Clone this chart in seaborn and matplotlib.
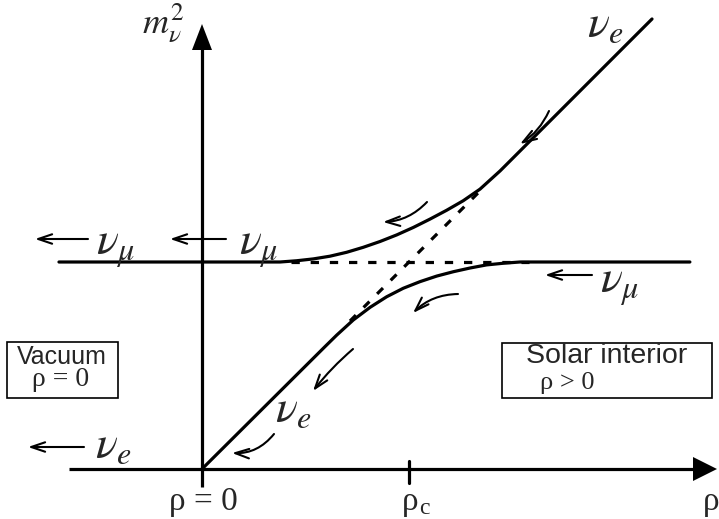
import numpy as np
import pandas as pd
import matplotlib
matplotlib.use("Agg")
import matplotlib.pyplot as plt
import seaborn as sns
from matplotlib.patches import Rectangle, Polygon

# ---------------- data (ρ in units of ρc, m² in units of m²_μ) ----------------
upper_rho = [-0.691, 0.377, 0.457, 0.538, 0.618, 0.699, 0.779, 0.860, 0.941,
             1.021, 1.101, 1.182, 1.262, 1.343, 1.440, 2.174]
upper_m2 = [1.000, 1.000, 1.006, 1.015, 1.028, 1.047, 1.071, 1.099, 1.131,
            1.167, 1.207, 1.250, 1.296, 1.352, 1.440, 2.174]
lower_rho = [0.0, 0.594, 0.651, 0.731, 0.812, 0.892, 0.972, 1.053, 1.134,
             1.214, 1.295, 1.375, 1.456, 1.536, 1.647, 2.357]
lower_m2 = [0.0, 0.591, 0.647, 0.720, 0.781, 0.832, 0.873, 0.905, 0.932,
            0.953, 0.971, 0.986, 0.994, 1.000, 1.000, 1.000]
cross_h_rho = [0.43, 1.58]      # dashed νμ level (no mixing)
cross_h_m2 = [1.0, 1.0]
cross_d_rho = [0.715, 1.367]    # dashed νe line (no mixing)
cross_d_m2 = [0.715, 1.367]
rho_c = 1.0

# ---------------- figure ----------------
sns.set_style("white")
plt.rcParams["mathtext.fontset"] = "stix"
fig = plt.figure(figsize=(7.19, 5.19), dpi=100)
ax = fig.add_axes([0, 0, 1, 1])
U = 207.0
X0, Y0 = 202.0, 469.0
ax.set_xlim((0 - X0) / U, (719 - X0) / U)
ax.set_ylim((Y0 - 519) / U, (Y0 - 0) / U)
ax.axis("off")


def P(px, py):
    return ((px - X0) / U, (Y0 - py) / U)


LW = 2.3
up = pd.DataFrame({"rho": upper_rho, "m2": upper_m2})
lo = pd.DataFrame({"rho": lower_rho, "m2": lower_m2})
sns.lineplot(data=up, x="rho", y="m2", sort=False, estimator=None,
             color="black", lw=LW, ax=ax)
sns.lineplot(data=lo, x="rho", y="m2", sort=False, estimator=None,
             color="black", lw=LW, ax=ax)
ax.plot(cross_h_rho, cross_h_m2, color="black", lw=LW, dashes=(2.6, 3.4))
ax.plot(cross_d_rho, cross_d_m2, color="black", lw=LW, dashes=(2.6, 3.4))

# axes with arrow heads
xa0 = P(69, 469); xa1 = P(697, 469)
ax.plot([xa0[0], xa1[0]], [0, 0], color="black", lw=LW, solid_capstyle="butt")
ax.add_patch(Polygon([P(717, 469), P(693, 457), P(693, 481)], closed=True,
                     color="black", lw=0))
ya0 = P(202, 487); ya1 = P(202, 48)
ax.plot([0, 0], [ya0[1], ya1[1]], color="black", lw=LW, solid_capstyle="butt")
ax.add_patch(Polygon([P(202, 24), P(192, 50), P(212, 50)], closed=True,
                     color="black", lw=0))
t0 = P(411, 461); t1 = P(411, 483)
ax.plot([rho_c, rho_c], [t0[1], t1[1]], color="black", lw=LW)

# arrows
def arrow(s, e, rad=0.0):
    ax.annotate("", xy=P(*e), xytext=P(*s),
                arrowprops=dict(arrowstyle="->,head_length=1.0,head_width=0.34",
                                lw=1.5, color="black", shrinkA=0, shrinkB=0,
                                connectionstyle=f"arc3,rad={rad}"))

arrow((549, 111), (520, 144), -0.15)
arrow((427, 202), (383, 222), -0.2)
arrow((458, 294), (413, 313), 0.2)
arrow((353, 349), (313, 391), 0.05)
arrow((274, 434), (232, 453), -0.25)
arrow((88, 239), (35, 239))
arrow((226, 239), (170, 239))
arrow((84, 447), (28, 447))
arrow((592, 275), (545, 275))

# labels
FS = 33
def lab(px, py, s, fs=FS, ha="left", va="baseline", **kw):
    ax.text(*P(px, py), s, fontsize=fs, ha=ha, va=va, **kw)

lab(142, 33, r"$m_{\nu}^{2}$", fs=26)
lab(587, 37, r"$\nu_e$")
lab(96, 255, r"$\nu_\mu$")
lab(239, 255, r"$\nu_\mu$")
lab(600, 293, r"$\nu_\mu$")
lab(275, 422, r"$\nu_e$")
lab(95, 458, r"$\nu_e$")

SER = "Liberation Serif"
lab(203, 502, "ρ = 0", fs=24, ha="center", va="center", family=SER)
lab(410, 502, "ρ", fs=24, ha="center", va="center", family=SER)
lab(419, 509, "c", fs=17, ha="left", va="center", family=SER)
lab(711, 502, "ρ", fs=24, ha="center", va="center", family=SER)

SANS = "Liberation Sans"
b0 = P(7, 398); b1 = P(118, 342)
ax.add_patch(Rectangle(b0, b1[0] - b0[0], b1[1] - b0[1], fill=False,
                       lw=1.2, ec="black"))
lab(62, 357, "Vacuum", fs=18, ha="center", va="center", family=SANS)
lab(61, 380, "ρ = 0", fs=20, ha="center", va="center", family=SER)

b0 = P(502, 398); b1 = P(712, 343)
ax.add_patch(Rectangle(b0, b1[0] - b0[0], b1[1] - b0[1], fill=False,
                       lw=1.2, ec="black"))
lab(607, 356, "Solar interior", fs=20.5, ha="center", va="center", family=SANS)
lab(567, 383, "ρ > 0", fs=19, ha="center", va="center", family=SER)

fig.savefig("out.png", dpi=100)
